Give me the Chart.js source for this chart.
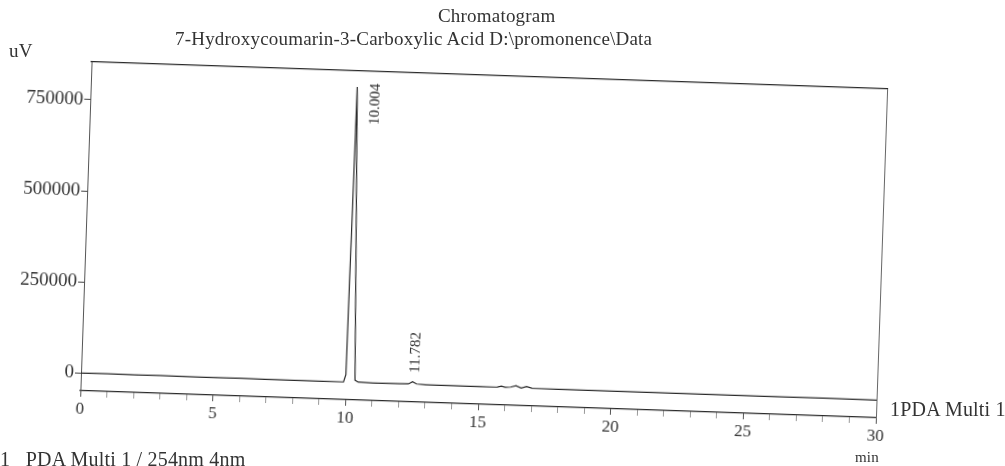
<!DOCTYPE html>
<html>
<head>
<meta charset="utf-8">
<script src="https://cdn.jsdelivr.net/npm/chart.js@4"></script>
<style>
  body { margin: 0; background: #fff; }
  #page { position: relative; width: 1005px; height: 466px; overflow: hidden; font-family: "Liberation Serif", serif; color: #333; }
  #plot { position: absolute; left: 0; top: 0; width: 1005px; height: 466px; transform: rotate(1.95deg); transform-origin: 502.5px 233px; }
  .lbl { position: absolute; font-size: 19px; letter-spacing: 0.2px; white-space: pre; line-height: 1; }
</style>
</head>
<body>
<div id="page">
  <div id="plot"><canvas id="chrom" width="1005" height="466"></canvas></div>
  <div class="lbl" style="left:438px;top:6px;">Chromatogram</div>
  <div class="lbl" style="left:175px;top:29px;">7-Hydroxycoumarin-3-Carboxylic Acid D:\promonence\Data</div>
  <div class="lbl" style="left:9px;top:41px;">uV</div>
  <div class="lbl" style="left:890px;top:399px;font-size:20px;">1PDA Multi 1</div>
  <div class="lbl" style="left:855px;top:450px;font-size:15px;">min</div>
  <div class="lbl" style="left:0px;top:449px;font-size:20px;">1   PDA Multi 1 / 254nm 4nm</div>
</div>
<script>
// retention time (min) and detector signal (uV)
const timesMin = [0, 1, 2, 3, 4, 5, 6, 7, 8, 9, 9.9, 9.98, 10.04, 10.33, 10.45, 11, 12, 12.35, 12.5, 12.65, 13, 14, 15, 15.7, 15.85, 16.0, 16.2, 16.4, 16.6, 16.8, 17.0, 18, 20, 22, 24, 26, 28, 30];
const signalUV = [0, 300, -200, 400, 0, -300, 200, 0, -400, 0, 500, 20000, 810000, 6000, 1000, 0, 500, 1000, 7000, 1500, 0, -500, 0, 500, 3000, 500, 1500, 6000, 0, 4500, 500, 0, -300, 0, -500, 0, 300, 0];

const xTickLabels = ['0', '5', '10', '15', '20', '25', '30'];
const yTickLabels = ['0', '250000', '500000', '750000'];

// peak annotations
const peakTimes = [10.04, 12.5];
const peakHeights = [810000, 7000];
const peakLabels = ['10.004', '11.782'];

const ink = '#2a2a2a';

const peakLabelPlugin = {
  id: 'peakLabels',
  afterDatasetsDraw(chart) {
    const ctx = chart.ctx;
    const xs = chart.scales.x, ys = chart.scales.y;
    ctx.save();
    ctx.fillStyle = '#333';
    ctx.font = '15px "Liberation Serif"';
    ctx.textBaseline = 'middle';
    peakTimes.forEach((t, i) => {
      const w = ctx.measureText(peakLabels[i]).width;
      let px = xs.getPixelForValue(t);
      let py = ys.getPixelForValue(peakHeights[i]);
      if (py - w - 10 < chart.chartArea.top) {
        // no room above: hang the label down beside the peak
        ctx.textAlign = 'right';
        px += 19;
        py -= 4;
      } else {
        ctx.textAlign = 'left';
        px += 2;
        py -= 9;
      }
      ctx.save();
      ctx.translate(px, py);
      ctx.rotate(-Math.PI / 2);
      ctx.fillText(peakLabels[i], 0, 0);
      ctx.restore();
    });
    ctx.restore();
  }
};

const ctx = document.getElementById('chrom').getContext('2d');
const myChart = new Chart(ctx, {
  type: 'scatter',
  data: {
    datasets: [{
      label: 'PDA Multi 1 / 254nm 4nm',
      data: timesMin.map((t, i) => ({ x: t, y: signalUV[i] })),
      showLine: true,
      borderColor: ink,
      borderWidth: 1.2,
      pointRadius: 0,
      tension: 0
    }]
  },
  options: {
    responsive: false,
    animation: false,
    layout: { padding: 0 },
    plugins: {
      legend: { display: false },
      title: { display: false },
      tooltip: { enabled: false }
    },
    scales: {
      x: {
        type: 'linear',
        position: 'bottom',
        min: 0,
        max: 30,
        afterFit(scale) { scale.height = 61; },
        afterBuildTicks(scale) {
          const t = [];
          for (let m = 0; m <= 30; m++) t.push({ value: m });
          scale.ticks = t;
        },
        border: { color: ink, width: 1.2 },
        grid: {
          drawOnChartArea: false,
          tickLength: 6,
          tickColor: (c) => (c.tick && c.tick.value % 5 === 0) ? '#555' : '#999'
        },
        ticks: {
          autoSkip: false,
          maxRotation: 0,
          padding: 2,
          color: '#333',
          font: { family: 'Liberation Serif', size: 17 },
          callback: (v) => v % 5 === 0 ? xTickLabels[v / 5] : ''
        }
      },
      x2: {
        type: 'linear',
        position: 'top',
        min: 0,
        max: 30,
        afterFit(scale) { scale.height = 76; },
        border: { color: ink, width: 1.2 },
        grid: { display: false },
        ticks: { display: false }
      },
      y: {
        type: 'linear',
        position: 'left',
        min: -48600,
        max: 854000,
        afterFit(scale) { scale.width = 86; },
        afterBuildTicks(scale) {
          scale.ticks = yTickLabels.map(s => ({ value: Number(s) }));
        },
        border: { color: '#555', width: 1, dash: [3, 3] },
        grid: { drawOnChartArea: false, tickLength: 6, tickColor: '#444' },
        ticks: {
          autoSkip: false,
          padding: 1,
          color: '#333',
          font: { family: 'Liberation Serif', size: 19 },
          callback: (v, i) => yTickLabels[i]
        }
      },
      y2: {
        type: 'linear',
        position: 'right',
        min: -48600,
        max: 854000,
        afterFit(scale) { scale.width = 123; },
        border: { color: '#666', width: 1, dash: [3, 3] },
        grid: { display: false },
        ticks: { display: false }
      }
    }
  },
  plugins: [peakLabelPlugin]
});
</script>
</body>
</html>
